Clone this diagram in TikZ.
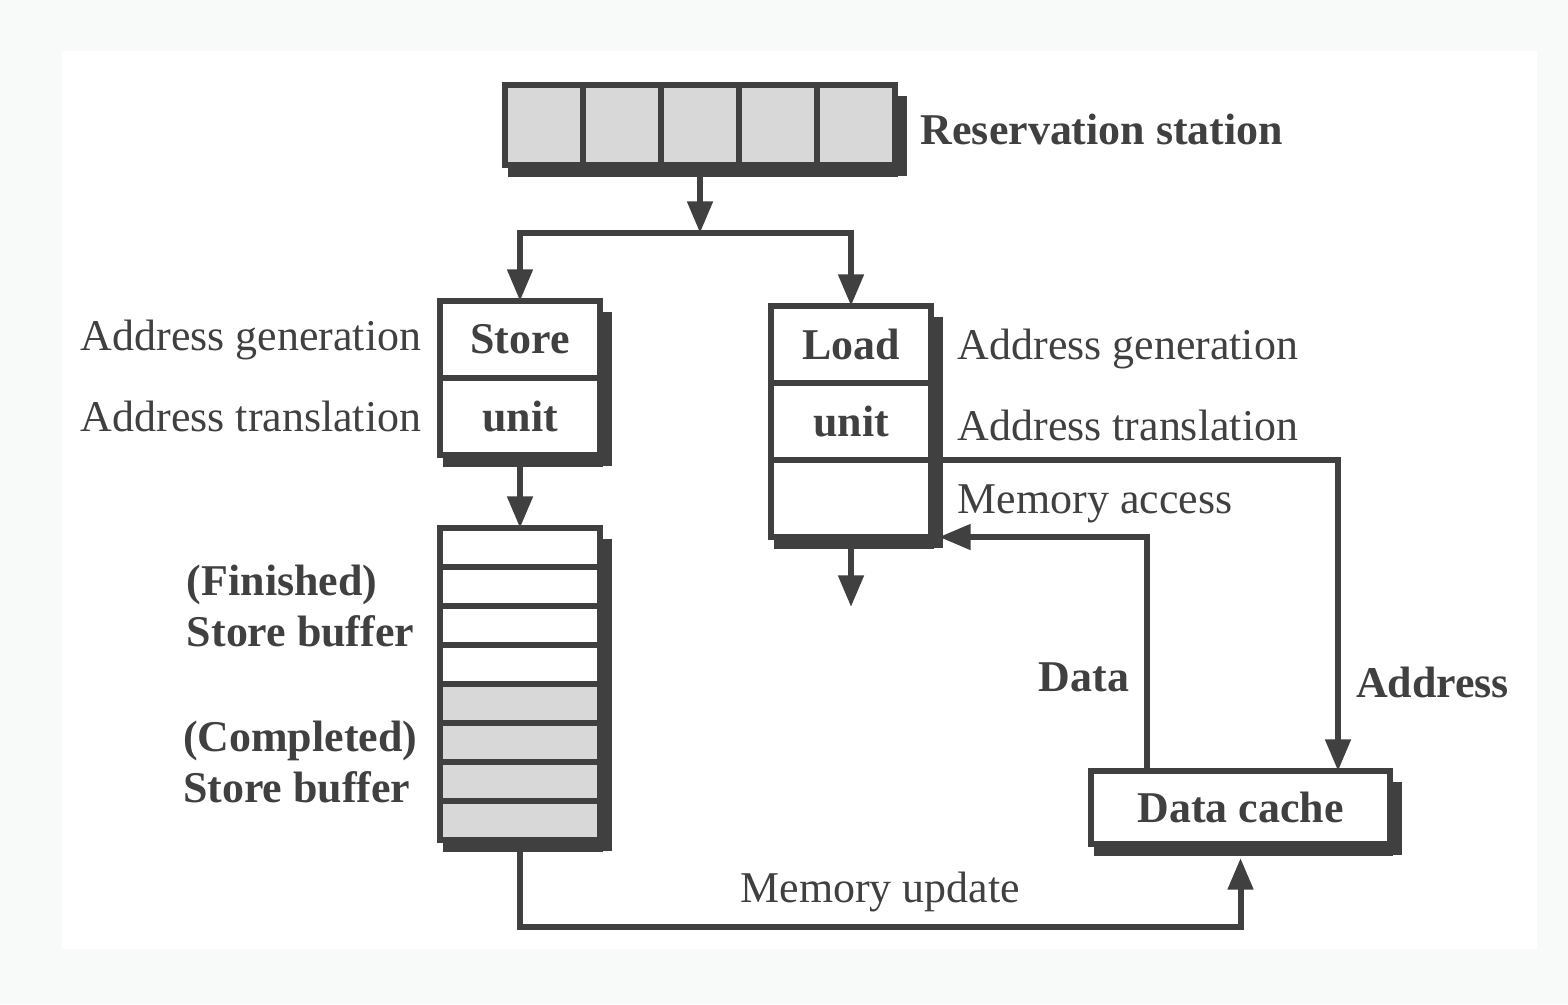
\documentclass[tikz,border=0pt]{standalone}
\usepackage{fontspec}
\setmainfont{Liberation Serif}
\usetikzlibrary{positioning, arrows.meta, shadows}
\definecolor{ink}{RGB}{64,64,64}
\definecolor{cellgray}{RGB}{216,216,216}
\definecolor{pagebg}{RGB}{248,250,249}

\begin{document}
\begin{tikzpicture}
  % 样式
  \tikzset{every node/.style = {font=\fontsize{12.5}{14.5}\selectfont}}
  \tikzset{ubox/.style = {draw=ink, line width=1.8pt, fill=white, text=ink, inner sep=0pt, outer sep=0pt,
      minimum width=1.6cm, minimum height=0.77cm, font=\fontsize{12.5}{14.5}\selectfont\bfseries,
      drop shadow={fill=ink, opacity=1, shadow xshift=3.4pt, shadow yshift=-3.2pt},
      drop shadow={fill=ink, opacity=1, shadow xshift=0.8pt, shadow yshift=-3.4pt}}}
  \tikzset{cell/.style = {ubox, fill=cellgray, minimum width=0.78cm, minimum height=0.8cm}}
  \tikzset{slot/.style = {ubox, minimum height=0.39cm}}
  \tikzset{fslot/.style = {slot, fill=cellgray}}
  \tikzset{lab/.style = {inner sep=0pt, text=ink}}
  \tikzset{blab/.style = {lab, font=\fontsize{12.5}{14.5}\selectfont\bfseries}}
  \tikzset{arr/.style = {draw=ink, line width=1.7pt, -{Triangle[length=9pt, width=7pt]}}}

  % 背景
  \fill[pagebg] (0,0) rectangle (15.68,-10.04);
  \fill[white] (0.62,-0.51) rectangle (15.37,-9.49);

  % 保留站
  \node[cell] (rs1) at (5.44,-1.25) {};
  \node[cell, right=0pt of rs1] (rs2) {};
  \node[cell, right=0pt of rs2] (rs3) {};
  \node[cell, right=0pt of rs3] (rs4) {};
  \node[cell, right=0pt of rs4] (rs5) {};
  \node[blab, right=0.25cm of rs5, yshift=-0.04cm] {Reservation station};
  \coordinate (split) at (7.00,-2.33);

  % Store 单元
  \node[ubox] (store) at (5.20,-3.395) {Store};
  \node[ubox, below=0pt of store] (sunit) {unit};
  \node[lab, left=0.18cm of store] {Address generation};
  \node[lab, left=0.18cm of sunit] {Address translation};

  % Store buffer
  \node[slot] (sb1) at (5.20,-5.475) {};
  \node[slot, below=0pt of sb1] (sb2) {};
  \node[slot, below=0pt of sb2] (sb3) {};
  \node[slot, below=0pt of sb3] (sb4) {};
  \node[fslot, below=0pt of sb4] (sb5) {};
  \node[fslot, below=0pt of sb5] (sb6) {};
  \node[fslot, below=0pt of sb6] (sb7) {};
  \node[fslot, below=0pt of sb7] (sb8) {};
  \node[blab, align=left, left=0.25cm of sb2.south west] {(Finished)\\Store buffer};
  \node[blab, align=left, left=0.22cm of sb6.south west] {(Completed)\\Store buffer};
  \coordinate[below=0.87cm of sb8] (mu);

  % Load 单元
  \node[ubox] (ld1) at (8.51,-3.445) {Load};
  \node[ubox, below=0pt of ld1] (ld2) {unit};
  \node[ubox, below=0pt of ld2] (ld3) {};
  \node[lab, right=0.26cm of ld1, yshift=-0.04cm] {Address generation};
  \node[lab, right=0.26cm of ld2, yshift=-0.04cm] {Address translation};
  \node[lab, right=0.26cm of ld3, yshift=-0.05cm] {Memory access};
  \coordinate[below=0.7cm of ld3] (ldout);

  % Data cache
  \node[ubox, minimum width=2.99cm, minimum height=0.73cm] (cache) at (12.405,-8.075) {Data cache};

  % 连线
  \draw[arr] (rs3) -- (split);
  \draw[arr] (split) -| (store);
  \draw[arr] (split) -| (ld1);
  \draw[arr] (sunit) -- (sb1);
  \draw[arr] (ld3) -- (ldout);
  \draw[arr] (ld2.south east) -| node[blab, pos=0.857, right=0.15cm] {Address} ([xshift=-0.52cm]cache.north east);
  \draw[arr] ([xshift=0.56cm]cache.north west) |- node[blab, pos=0.2, left=0.15cm] {Data} ([xshift=0.08cm]ld3.south east);
  \draw[arr] (sb8.south) -- (mu) -| node[lab, pos=0.25, above=0.12cm] {Memory update} ([yshift=-0.14cm]cache.south);
\end{tikzpicture}
\end{document}
